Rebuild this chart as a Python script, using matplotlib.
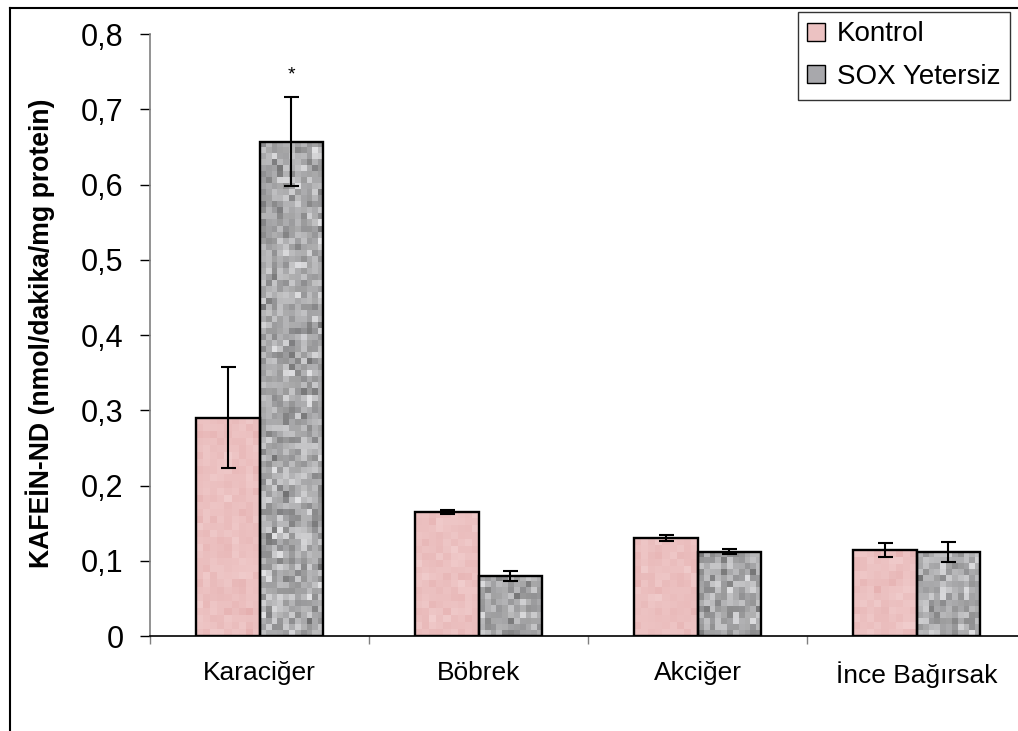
import numpy as np
import matplotlib
matplotlib.use("Agg")
import matplotlib.pyplot as plt
from matplotlib.patches import Patch
from matplotlib.lines import Line2D
from matplotlib.ticker import FuncFormatter, FixedLocator

plt.rcParams['font.family'] = ['Liberation Sans', 'DejaVu Sans']

# data
categories = ["Karaciğer", "Böbrek", "Akciğer", "İnce Bağırsak"]
kontrol = [0.290, 0.165, 0.130, 0.114]
kontrol_err = [0.067, 0.003, 0.004, 0.009]
sox = [0.657, 0.080, 0.112, 0.112]
sox_err = [0.059, 0.007, 0.003, 0.013]
series_names = ["Kontrol", "SOX Yetersiz"]

W, H = 1018, 731
fig = plt.figure(figsize=(W / 100, H / 100), dpi=100)
ax = fig.add_axes([150 / W, 95 / H, 876 / W, 602 / H])

x = np.arange(len(categories))
bw = 0.288

# texture only (not data): seeded noise for the bar fills
rng = np.random.default_rng(7)
px_per_unit = 602 / 0.8


def fill_bar(rect, kind):
    x0, w, h = rect.get_x(), rect.get_width(), rect.get_height()
    hpx = h * px_per_unit
    if kind == "pink":
        nx, ny = 9, max(1, int(round(hpx / 7)))
        base = np.array([236, 193, 193]) / 255.0
        v = rng.normal(0, 0.02, (ny, nx))
        img = np.clip(base[None, None, :] + v[:, :, None] * np.array([0.4, 1.0, 1.0]), 0, 1)
    else:
        nx, ny = 11, max(1, int(round(hpx / 6)))
        v = np.clip(rng.normal(0.67, 0.085, (ny, nx)), 0.36, 0.88)
        img = np.stack([v, v, v * 1.01], axis=-1).clip(0, 1)
    ax.imshow(img, extent=(x0, x0 + w, 0, h), aspect='auto',
              interpolation='nearest', zorder=2)


b1 = ax.bar(x - bw / 2, kontrol, bw, facecolor='none', edgecolor='black',
            linewidth=1.7, zorder=3)
b2 = ax.bar(x + bw / 2, sox, bw, facecolor='none', edgecolor='black',
            linewidth=1.7, zorder=3)
for r in b1:
    fill_bar(r, "pink")
for r in b2:
    fill_bar(r, "grey")

ax.errorbar(x - bw / 2, kontrol, yerr=kontrol_err, fmt='none', ecolor='black',
            elinewidth=1.5, capsize=5.4, capthick=1.5, zorder=4)
ax.errorbar(x + bw / 2, sox, yerr=sox_err, fmt='none', ecolor='black',
            elinewidth=1.5, capsize=5.4, capthick=1.5, zorder=4)

ax.text(x[0] + bw / 2, 0.745, "*", ha='center', va='center', fontsize=14)

ax.set_xlim(-0.5, 3.5)
ax.set_ylim(0, 0.8)

ax.yaxis.set_major_locator(FixedLocator(np.arange(0, 0.81, 0.1)))
ax.yaxis.set_major_formatter(FuncFormatter(
    lambda v, p: "0" if abs(v) < 1e-9 else f"{v:.1f}".replace('.', ',')))
ax.tick_params(axis='y', direction='out', length=7, width=1, color='black',
               labelsize=22, pad=12)

ax.set_xticks(x)
ax.set_xticklabels(categories)
ax.tick_params(axis='x', which='major', length=0, labelsize=19, pad=18)
ax.set_xticks(np.arange(-0.5, 3.6, 1), minor=True)
ax.tick_params(axis='x', which='minor', direction='out', length=6, width=1,
               color='#808080')

ax.spines['top'].set_visible(False)
ax.spines['right'].set_visible(False)
ax.spines['left'].set_color('#808080')
ax.spines['left'].set_linewidth(1.2)
ax.spines['bottom'].set_color('black')
ax.spines['bottom'].set_linewidth(1.2)

fig.text(40 / W, 1 - 333 / H, "KAFEİN-ND (nmol/dakika/mg protein)",
         rotation=90, ha='center', va='center', fontsize=19.2,
         fontweight='bold')

handles = [Patch(facecolor='#ECC2C2', edgecolor='black', linewidth=1),
           Patch(facecolor='#A8A8AC', edgecolor='black', linewidth=1)]
leg = fig.legend(handles, series_names, loc='upper right',
                 bbox_to_anchor=(1010 / W, 1 - 12 / H), fontsize=20,
                 frameon=True, fancybox=False, shadow=False,
                 handlelength=0.62, handleheight=0.62, handletextpad=0.45,
                 borderpad=0.34, labelspacing=0.6, borderaxespad=0)
leg.get_frame().set_edgecolor('black')
leg.get_frame().set_linewidth(1)

# outer border of the chart area
fig.add_artist(Line2D([10 / W, 1], [1 - 8 / H, 1 - 8 / H], color='black',
                      linewidth=1.5, transform=fig.transFigure))
fig.add_artist(Line2D([10 / W, 10 / W], [0, 1 - 8 / H], color='black',
                      linewidth=1.5, transform=fig.transFigure))

fig.savefig("out.png", dpi=100)
